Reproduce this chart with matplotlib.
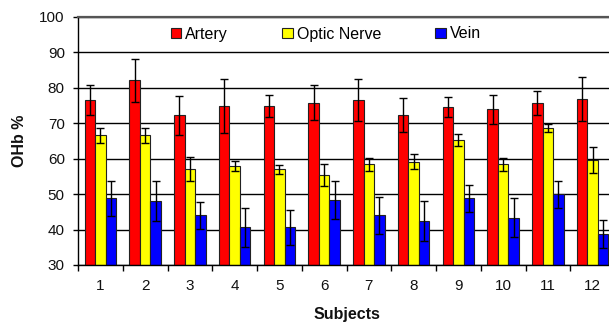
import matplotlib
matplotlib.use("Agg")
import matplotlib.pyplot as plt
import numpy as np

subjects = ["1", "2", "3", "4", "5", "6", "7", "8", "9", "10", "11", "12"]
artery = [76.5, 82.1, 72.2, 74.8, 74.8, 75.8, 76.5, 72.2, 74.6, 73.9, 75.8, 76.8]
artery_err = [4.2, 6.0, 5.5, 7.6, 3.1, 4.9, 5.9, 4.8, 2.7, 4.0, 3.4, 6.2]
optic = [66.6, 66.6, 57.2, 57.9, 57.0, 55.3, 58.4, 59.1, 65.4, 58.4, 68.6, 59.7]
optic_err = [2.2, 2.2, 3.4, 1.4, 1.3, 3.1, 1.8, 2.1, 1.7, 1.9, 1.2, 3.6]
vein = [48.8, 48.1, 44.0, 40.6, 40.6, 48.4, 44.0, 42.4, 48.8, 43.3, 50.0, 38.7]
vein_err = [5.0, 5.7, 3.8, 5.4, 4.9, 5.4, 5.3, 5.7, 3.8, 5.5, 3.8, 4.0]
series_names = ["Artery", "Optic Nerve", "Vein"]
series_colors = ["#FF0000", "#FFFF00", "#0000FF"]

plt.rcParams['font.family'] = ['Liberation Sans', 'DejaVu Sans']

W, H = 609, 323
fig = plt.figure(figsize=(W / 100, H / 100), dpi=100)
ax = fig.add_axes([78 / W, (H - 265) / H, 537 / W, (265 - 17) / H])

x = np.arange(len(subjects))
bw = 0.235
data = [(artery, artery_err), (optic, optic_err), (vein, vein_err)]
handles = []
for i, ((vals, errs), name, col) in enumerate(zip(data, series_names, series_colors)):
    b = ax.bar(x + (i - 1) * bw, np.array(vals) - 30, bw, bottom=30, color=col,
               edgecolor="#222222", linewidth=0.8, label=name, zorder=2)
    ax.errorbar(x + (i - 1) * bw, vals, yerr=errs, fmt="none", ecolor="black",
                elinewidth=1.0, capsize=3.2, capthick=1.0, zorder=3)
    handles.append(b)

ax.set_xlim(-0.5, len(subjects) - 0.5)
ax.set_ylim(30, 100)
ax.set_yticks(np.arange(30, 101, 10))
ax.set_xticks(x)
ax.set_xticklabels(subjects)
ax.set_xticks(np.arange(-0.5, len(subjects), 1.0), minor=True)
ax.tick_params(axis="x", which="major", length=0, pad=10, labelsize=11, colors="#111111")
ax.tick_params(axis="x", which="minor", length=4, width=1, direction="out", color="black")
ax.tick_params(axis="y", length=3.5, width=1, direction="out", pad=6, labelsize=11, colors="#111111")
ax.tick_params(axis="y", colors="black", labelcolor="#111111")
ax.yaxis.grid(True, color="black", linewidth=1.0, zorder=0)
ax.set_axisbelow(True)
for s in ["right"]:
    ax.spines[s].set_visible(False)
ax.spines["top"].set_color("#555555")
ax.spines["top"].set_linewidth(1.6)
ax.spines["left"].set_linewidth(1.0)
ax.spines["bottom"].set_linewidth(1.0)

leg = fig.legend(handles=handles, labels=series_names, loc="center left",
                 bbox_to_anchor=(171.0 / W, 1 - 34 / H), ncol=3, frameon=False,
                 fontsize=11.5, handlelength=0.65, handleheight=0.65,
                 handletextpad=0.25, columnspacing=3.4, borderpad=0, borderaxespad=0)

fig.text(19 / W, 1 - 141 / H, "OHb %", rotation=90, ha="center", va="center",
         fontsize=11.5, fontweight="bold", color="#111111")
fig.text(346.5 / W, 1 - 314 / H, "Subjects", ha="center", va="center",
         fontsize=11.5, fontweight="bold", color="#111111")

fig.savefig("out.png", dpi=100)
